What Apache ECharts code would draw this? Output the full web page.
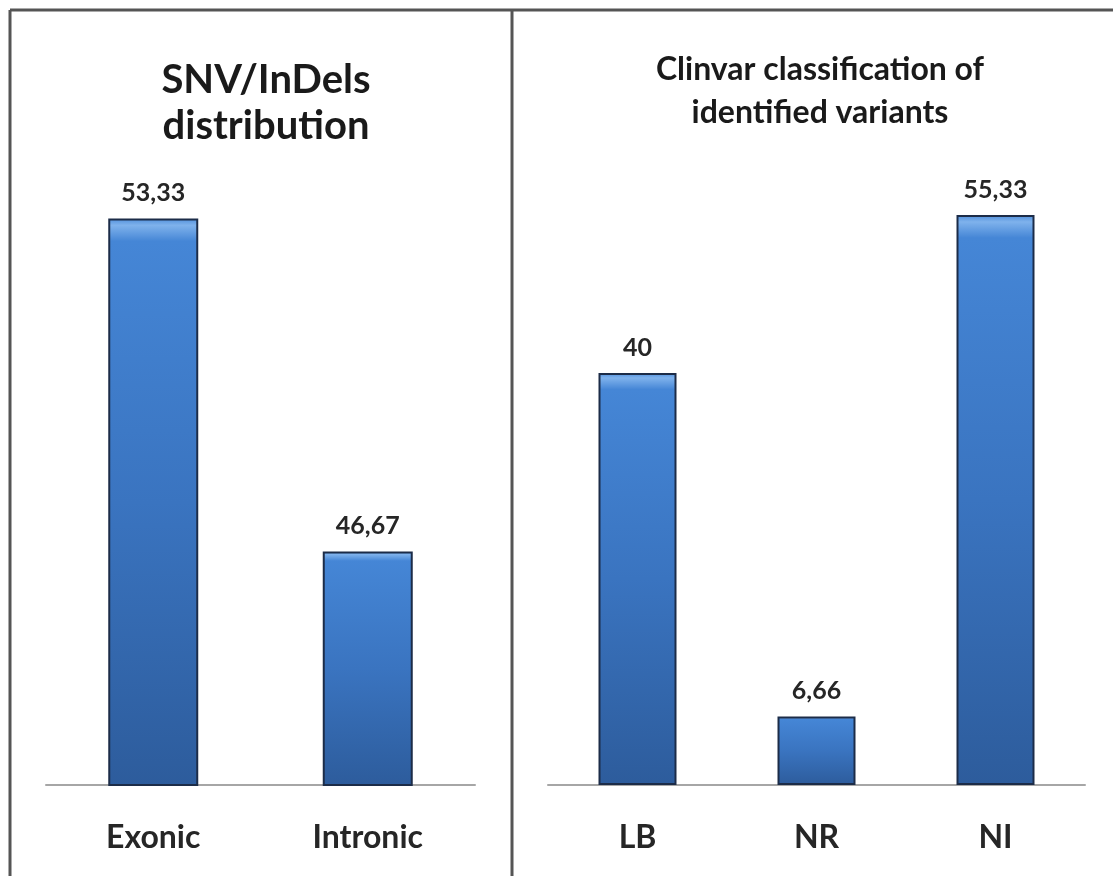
<!DOCTYPE html>
<html>
<head>
<meta charset="utf-8">
<script src="https://cdn.jsdelivr.net/npm/echarts@6/dist/echarts.min.js"></script>
<style>
html,body{margin:0;padding:0;background:#fff;}
#chart{width:1113px;height:876px;}
</style>
</head>
<body>
<div id="chart"></div>
<script>
// Data
const leftTitle = 'SNV/InDels\ndistribution';
const leftCategories = ['Exonic', 'Intronic'];
const leftValues = [53.33, 46.67];

const rightTitle = 'Clinvar classification of\nidentified variants';
const rightCategories = ['LB', 'NR', 'NI'];
const rightValues = [40, 6.66, 55.33];

const FONT = 'Lato, "Open Sans", sans-serif';

const chart = echarts.init(document.getElementById('chart'), null, {renderer: 'canvas'});

const barFill = new echarts.graphic.LinearGradient(0, 0, 0, 1, [
  {offset: 0, color: '#4f8edb'},
  {offset: 0.012, color: '#7fb2ec'},
  {offset: 0.04, color: '#4586d6'},
  {offset: 0.5, color: '#3a74c0'},
  {offset: 1, color: '#2d5c9c'}
]);

function fmt(p) { return String(p.value).replace('.', ','); }

const labelStyle = {
  show: true, position: 'top', distance: 13,
  formatter: fmt, color: '#262626', fontFamily: FONT,
  fontWeight: 'bold', fontSize: 25
};
const itemStyle = { color: barFill, borderColor: '#1c2c48', borderWidth: 2 };

const catAxisCommon = {
  type: 'category',
  axisTick: {show: false},
  axisLine: {show: true, lineStyle: {color: '#a6a6a6', width: 2}},
  axisLabel: {color: '#262626', fontFamily: FONT, fontWeight: 'bold', fontSize: 32, margin: 37}
};

chart.setOption({
  animation: false,
  backgroundColor: '#ffffff',
  title: [
    {text: leftTitle, left: 261, top: 52, textAlign: 'center',
     textStyle: {fontFamily: FONT, fontWeight: 'bold', fontSize: 40, color: '#1a1a1a', lineHeight: 46, align: 'center'}},
    {text: rightTitle, left: 815, top: 43, textAlign: 'center',
     textStyle: {fontFamily: FONT, fontWeight: 'bold', fontSize: 32, color: '#1a1a1a', lineHeight: 43, align: 'center'}}
  ],
  grid: [
    {left: 46, top: 85, width: 429, height: 700},
    {left: 548, top: 167, width: 537, height: 618}
  ],
  xAxis: [
    Object.assign({gridIndex: 0, data: leftCategories}, catAxisCommon),
    Object.assign({gridIndex: 1, data: rightCategories}, catAxisCommon)
  ],
  yAxis: [
    {gridIndex: 0, type: 'value', min: 42, max: 56, show: false, splitLine: {show: false}},
    {gridIndex: 1, type: 'value', min: 0, max: 60, show: false, splitLine: {show: false}}
  ],
  series: [
    {type: 'bar', xAxisIndex: 0, yAxisIndex: 0, data: leftValues, barWidth: 90,
     itemStyle: itemStyle, label: labelStyle},
    {type: 'bar', xAxisIndex: 1, yAxisIndex: 1, data: rightValues, barWidth: 78,
     itemStyle: itemStyle, label: labelStyle}
  ],
  graphic: [
    {type: 'line', shape: {x1: 10, y1: 10, x2: 1113, y2: 10}, style: {stroke: '#555555', lineWidth: 3}, silent: true},
    {type: 'line', shape: {x1: 10, y1: 10, x2: 10, y2: 876}, style: {stroke: '#555555', lineWidth: 3}, silent: true},
    {type: 'line', shape: {x1: 512, y1: 10, x2: 512, y2: 876}, style: {stroke: '#555555', lineWidth: 3}, silent: true}
  ]
});
</script>
</body>
</html>
